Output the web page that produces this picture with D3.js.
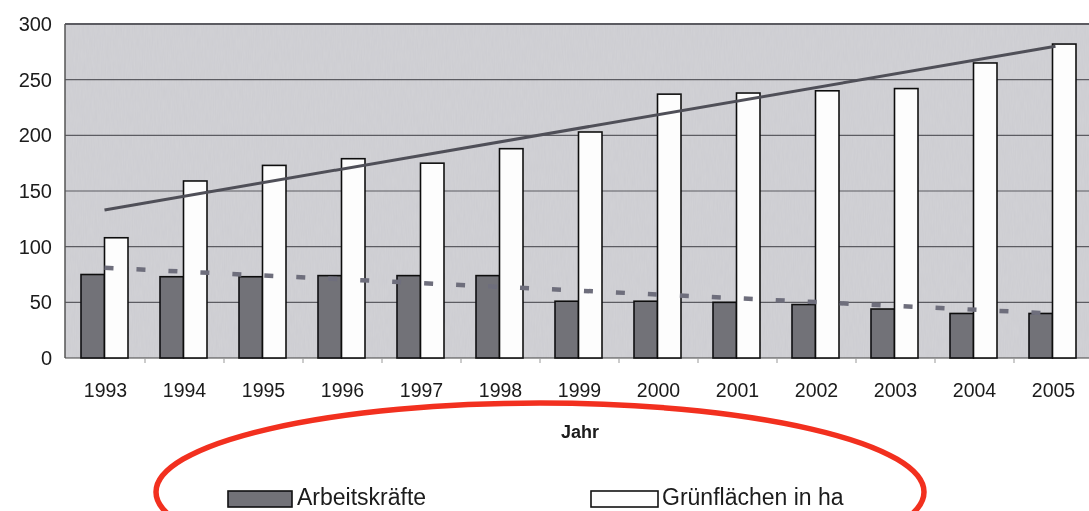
<!DOCTYPE html>
<html>
<head>
<meta charset='utf-8' />
<title></title>
<style>
  body{ margin:0; background:#fff; }
  svg{ display:block; }
  text{ font-family: "Liberation Sans", Arial, Helvetica, sans-serif; fill:#1a1a1a; }
</style>
</head>
<body>
<script src="https://cdnjs.cloudflare.com/ajax/libs/d3/7.8.5/d3.min.js"></script>
<script>

// data
let years = ['1993','1994','1995','1996','1997','1998','1999','2000','2001','2002','2003','2004','2005']
let arbeitskraefte = [75, 73, 73, 74, 74, 74, 51, 51, 50, 48, 44, 40, 40]
let gruenflaechen = [108, 159, 173, 179, 175, 188, 203, 237, 238, 240, 242, 265, 282]
// trend lines: value at first and last year
let trendGruen = [133, 280]
let trendArbeit = [81, 40]
let yTicks = [0, 50, 100, 150, 200, 250, 300]
let legendLabels = ['Arbeitskräfte', 'Grünflächen in ha']

let width = 1089, height = 511,
  pTop = 24, pBottom = 358, pLeft = 65

let svg = d3.select('body').append('svg').attr('width', width).attr('height', height)

let defs = svg.append('defs')
let f = defs.append('filter').attr('id','grain').attr('x',0).attr('y',0).attr('width','100%').attr('height','100%')
f.append('feTurbulence').attr('type','fractalNoise').attr('baseFrequency','0.9 0.08').attr('numOctaves',2).attr('seed',3)
f.append('feColorMatrix').attr('type','matrix')
  .attr('values','0 0 0 0 0.4  0 0 0 0 0.4  0 0 0 0 0.45  0 0 0 0.14 0')
let blur = defs.append('filter').attr('id','soft')
blur.append('feGaussianBlur').attr('stdDeviation',0.5)

let x = d3.scaleBand().domain(years).range([66, 66 + 79*13]).paddingInner(0).paddingOuter(0)
let y = d3.scaleLinear().domain([0, 300]).range([pBottom, pTop])

let g = svg.append('g').attr('filter','url(#soft)')

// plot area
g.append('rect').attr('x', pLeft).attr('y', pTop).attr('width', width - pLeft + 10).attr('height', pBottom - pTop)
  .style('fill', '#d2d2d6')
g.append('rect').attr('x', pLeft).attr('y', pTop).attr('width', width - pLeft + 10).attr('height', pBottom - pTop)
  .attr('filter','url(#grain)')

// gridlines
g.append('g').selectAll('line').data(yTicks).enter().append('line')
  .attr('x1', pLeft).attr('x2', width + 10)
  .attr('y1', d => y(d)).attr('y2', d => y(d))
  .style('stroke', d => d == 0 ? '#444' : '#5c5c62').style('stroke-width', d => d == 300 ? 2 : 1.2)
g.append('line').attr('x1', pLeft).attr('x2', pLeft).attr('y1', pTop).attr('y2', pBottom)
  .style('stroke', '#555').style('stroke-width', 1.5)

// y labels
let yAxis = d3.axisLeft(y).tickValues(yTicks).tickSize(0).tickPadding(13)
let ya = g.append('g').attr('transform', 'translate(' + pLeft + ',0)').call(yAxis)
ya.select('.domain').remove()
ya.selectAll('text').style('font-size', '20px').style('fill', '#1a1a1a')
  .style('font-family', '"Liberation Sans", Arial, sans-serif')

// x labels and small tick marks
let xAxis = d3.axisBottom(x).tickSize(0).tickPadding(25)
let xa = g.append('g').attr('transform', 'translate(0,' + pBottom + ')').call(xAxis)
xa.select('.domain').remove()
xa.selectAll('text').style('font-size', '19.5px').style('fill', '#1a1a1a')
  .style('font-family', '"Liberation Sans", Arial, sans-serif')
g.append('g').selectAll('line').data(years.slice(1)).enter().append('line')
  .attr('x1', d => x(d)).attr('x2', d => x(d)).attr('y1', pBottom).attr('y2', pBottom + 5)
  .style('stroke', '#999').style('stroke-width', 1)

let bw = 23.5
let xc = d => x(d) + x.bandwidth() / 2 - 1

// bars
g.append('g').selectAll('rect').data(years).enter().append('rect')
  .attr('x', d => xc(d) - bw).attr('width', bw)
  .attr('y', (d, i) => y(arbeitskraefte[i])).attr('height', (d, i) => y(0) - y(arbeitskraefte[i]))
  .style('fill', '#727278').style('stroke', '#111').style('stroke-width', 1.6)
g.append('g').selectAll('rect').data(years).enter().append('rect')
  .attr('x', d => xc(d)).attr('width', bw)
  .attr('y', (d, i) => y(gruenflaechen[i])).attr('height', (d, i) => y(0) - y(gruenflaechen[i]))
  .style('fill', '#fdfdfd').style('stroke', '#111').style('stroke-width', 1.6)

// trend lines
let first = years[0], last = years[years.length - 1]
g.append('line')
  .attr('x1', xc(first)).attr('y1', y(trendGruen[0]))
  .attr('x2', xc(last) + 3).attr('y2', y(trendGruen[1]))
  .style('stroke', '#505058').style('stroke-width', 3)
g.append('line')
  .attr('x1', xc(first)).attr('y1', y(trendArbeit[0]))
  .attr('x2', xc(last)).attr('y2', y(trendArbeit[1]))
  .style('stroke', '#6e6e7c').style('stroke-width', 4.5).style('stroke-dasharray', '9 23')

// axis title
g.append('text').attr('x', 580).attr('y', 438).attr('text-anchor', 'middle')
  .style('font-size', '18px').style('font-weight', 'bold').text('Jahr')

// legend
let leg = g.append('g')
let legX = [228, 591]
leg.selectAll('rect').data(legendLabels).enter().append('rect')
  .attr('x', (d, i) => legX[i]).attr('y', 491).attr('width', (d, i) => i == 0 ? 64 : 67).attr('height', 16)
  .style('fill', (d, i) => i == 0 ? '#727278' : '#fdfdfd').style('stroke', '#111').style('stroke-width', 1.6)
leg.selectAll('text').data(legendLabels).enter().append('text')
  .attr('x', (d, i) => legX[i] + (i == 0 ? 69 : 71)).attr('y', 505)
  .style('font-size', '23px').text(d => d)

// red ellipse
svg.append('ellipse').attr('cx', 540).attr('cy', 492).attr('rx', 384).attr('ry', 89)
  .style('fill', 'none').style('stroke', '#f2301f').style('stroke-width', 5.5)

</script>
</body>
</html>
